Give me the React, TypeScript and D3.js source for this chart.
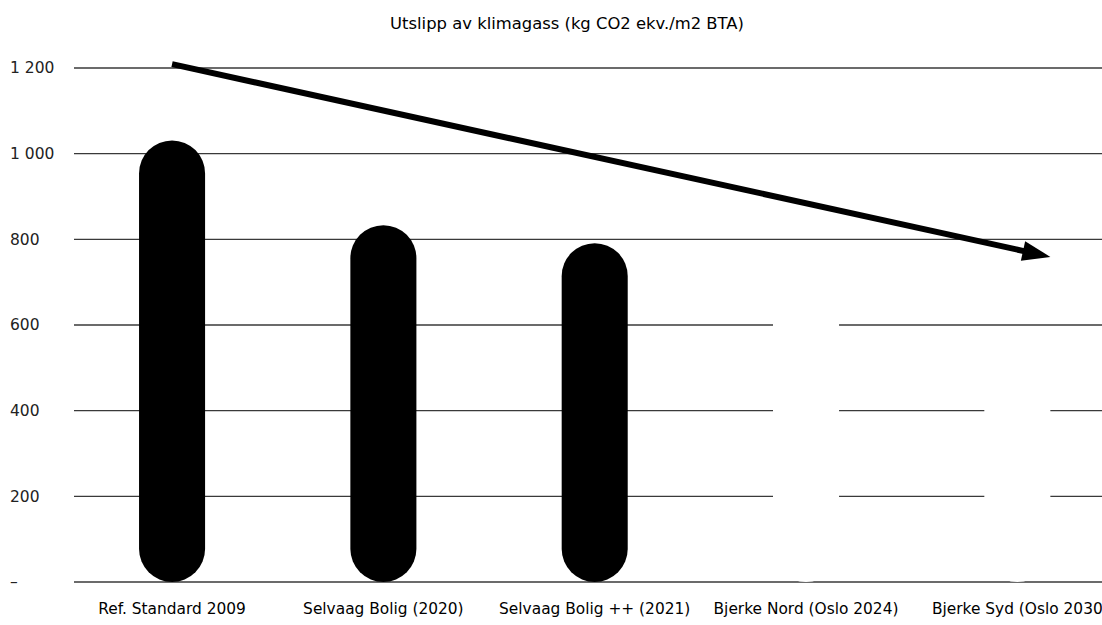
import React from "react";
import * as d3 from "d3";

const categories = [
  "Ref. Standard 2009",
  "Selvaag Bolig (2020)",
  "Selvaag Bolig ++ (2021)",
  "Bjerke Nord (Oslo 2024)",
  "Bjerke Syd (Oslo 2030",
];
const values = [1031, 833, 791, 720, 540];
const barColors = ["#000", "#000", "#000", "#fff", "#fff"];
const yTicks = [0, 200, 400, 600, 800, 1000, 1200];
const yTickLabels = ["–", "200", "400", "600", "800", "1 000", "1 200"];
const title = "Utslipp av klimagass (kg CO2 ekv./m2 BTA)";
// trend arrow: from category 0 at value 1209 to category 4 at value 759
const arrowFrom = { cat: 0, value: 1209 };
const arrowTo = { cat: 4, value: 759 };

const W = 1102;
const H = 625;
const FONT = "'DejaVu Sans', Verdana, sans-serif";

export default function App() {
  const x = d3.scaleBand<string>().domain(categories).range([66.4, 1123]).paddingInner(0.6875).paddingOuter(0.34375);
  const y = d3.scaleLinear().domain([0, 1200]).range([582, 68]);
  const bw = x.bandwidth();
  const cx = (c: string) => (x(c) as number) + bw / 2;

  const ax0 = cx(categories[arrowFrom.cat]);
  const ay0 = y(arrowFrom.value);
  const ax1 = cx(categories[arrowTo.cat]) + bw / 2;
  const ay1 = y(arrowTo.value);
  const dx = ax1 - ax0, dy = ay1 - ay0;
  const len = Math.hypot(dx, dy);
  const ux = dx / len, uy = dy / len;
  const headLen = 28, headHalf = 10;
  const bx = ax1 - ux * headLen, by = ay1 - uy * headLen;
  const head = [
    [ax1, ay1],
    [bx - uy * headHalf, by + ux * headHalf],
    [bx + uy * headHalf, by - ux * headHalf],
  ];

  return (
    <svg width={W} height={H} style={{ position: "absolute", left: 0, top: 0, background: "#fff" }}>
      <rect width={W} height={H} fill="#fff" />
      <text x={567} y={29} textAnchor="middle" fontFamily={FONT} fontSize={16.4} fill="#000">
        {title}
      </text>
      {yTicks.map((t, i) => (
        <g key={t}>
          <line x1={74} x2={W} y1={y(t)} y2={y(t)} stroke="#3a3a3a" strokeWidth={1.4} />
          <text x={10} y={y(t)} dy="0.35em" textAnchor="start" fontFamily={FONT} fontSize={15.5} fill="#222">
            {yTickLabels[i]}
          </text>
        </g>
      ))}
      {categories.map((c, i) => (
        <rect
          key={c}
          x={x(c)}
          y={y(values[i])}
          width={bw}
          height={y(0) - y(values[i])}
          rx={bw / 2}
          ry={bw / 2}
          fill={barColors[i]}
        />
      ))}
      {categories.map((c) => (
        <text key={c} x={cx(c)} y={614} textAnchor="middle" fontFamily={FONT} fontSize={15.4} fill="#000">
          {c}
        </text>
      ))}
      <line x1={ax0} y1={ay0} x2={bx + ux * 2} y2={by + uy * 2} stroke="#000" strokeWidth={6} />
      <polygon points={head.map((p) => p.join(",")).join(" ")} fill="#000" />
    </svg>
  );
}
